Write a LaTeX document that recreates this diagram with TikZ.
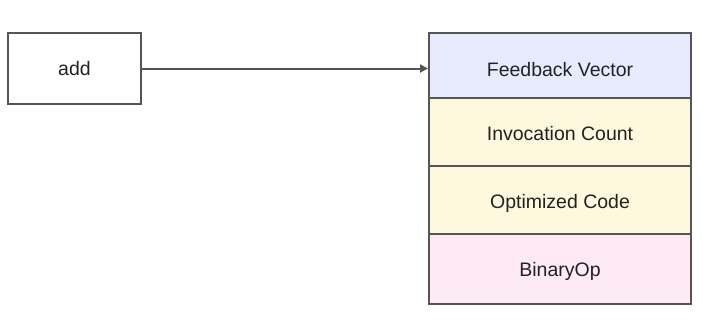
\documentclass[tikz,border=0pt]{standalone}
\usepackage{fontspec}
\setmainfont{Liberation Sans}
\usetikzlibrary{arrows.meta}
\definecolor{edge}{HTML}{555555}
\definecolor{fbblue}{HTML}{E6ECFE}
\definecolor{cellyel}{HTML}{FDF8DE}
\definecolor{binpink}{HTML}{FDEAF5}
\definecolor{txt}{HTML}{222222}
\begin{document}
\begin{tikzpicture}[x=1pt,y=-1pt,
  cell/.style={draw=edge,line width=2pt,inner sep=0pt},
  lbl/.style={anchor=base,inner sep=0pt,text=txt,font=\fontsize{19.5}{23}\selectfont}]
\useasboundingbox (0,0) rectangle (702,322);
\node[cell,fill=white,minimum width=133pt,minimum height=71pt] (add) at (74.5,68.5) {};
\node[cell,fill=fbblue,minimum width=262pt,minimum height=65pt] (fb) at (560,65.5) {};
\node[cell,fill=cellyel,minimum width=262pt,minimum height=68pt] (ic) at (560,132) {};
\node[cell,fill=cellyel,minimum width=262pt,minimum height=68pt] (oc) at (560,200) {};
\node[cell,fill=binpink,minimum width=262pt,minimum height=70pt] (bo) at (560,269) {};
\node[lbl] (addt) at (74.5,75.5) {add};
\node[lbl] (fbt) at (560,76) {Feedback Vector};
\node[lbl] (ict) at (560,140) {Invocation Count};
\node[lbl] (oct) at (560,208) {Optimized Code};
\node[lbl] (bot) at (560,276.5) {BinaryOp};
\draw[edge,line width=2pt,-{Triangle[length=8pt,width=8pt]}] (add.east) -- (add.east -| fb.west);
\end{tikzpicture}
\end{document}
